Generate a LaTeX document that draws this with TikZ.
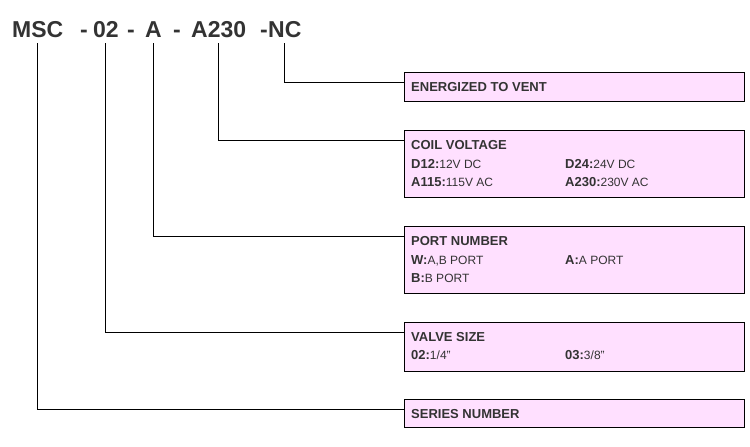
\documentclass[tikz,border=0pt]{standalone}
\usepackage{fontspec}
\setmainfont{Liberation Sans}
\definecolor{boxpink}{RGB}{255,224,255}
\definecolor{inkgray}{RGB}{51,51,51}
\newcommand{\optitem}[2]{{\fontsize{13}{13}\bfseries\selectfont #1}{\fontsize{12}{12}\selectfont #2}}
\tikzset{
  code/.style={font=\fontsize{23}{23}\bfseries\selectfont, text=inkgray, inner xsep=0pt, inner ysep=6pt, anchor=base west},
  optbox/.style={draw=black, line width=1pt, fill=boxpink, minimum width=340pt, minimum height=#1, inner sep=0pt, anchor=north west},
  head/.style={font=\fontsize{13}{13}\bfseries\selectfont, text=inkgray, inner sep=0pt, anchor=base west},
  opt/.style={text=inkgray, inner sep=0pt, anchor=base west},
  link/.style={line width=1pt},
}
\begin{document}
\begin{tikzpicture}[x=1pt,y=-1pt]
\useasboundingbox (0,0) rectangle (750,447);
% part number
\node[code] (msc) at (12,37) {MSC};
\node[code] (dash1) at (80,37) {-};
\node[code] (size) at (93,37) {02};
\node[code] (dash2) at (127,37) {-};
\node[code] (port) at (145,37) {A};
\node[code] (dash3) at (173,37) {-};
\node[code] (coil) at (191,37) {A230};
\node[code] (dash4) at (260,37) {-};
\node[code] (nc) at (268,37) {NC};
% option boxes
\node[optbox=29pt] (ventbox) at (404,72) {};
\node[optbox=67pt] (coilbox) at (404,130) {};
\node[optbox=67pt] (portbox) at (404,226) {};
\node[optbox=49pt] (sizebox) at (404,322) {};
\node[optbox=28pt] (seriesbox) at (404,399) {};
% box texts
\node[head] (venthead) at (411,91) {ENERGIZED TO VENT};
\node[head] (coilhead) at (411,149) {COIL VOLTAGE};
\node[opt] (d12) at (411,168) {\optitem{D12:}{12V DC}};
\node[opt] (d24) at (565,168) {\optitem{D24:}{24V DC}};
\node[opt] (a115) at (411,186) {\optitem{A115:}{115V AC}};
\node[opt] (a230) at (565,186) {\optitem{A230:}{230V AC}};
\node[head] (porthead) at (411,245) {PORT NUMBER};
\node[opt] (pw) at (411,264) {\optitem{W:}{A,B PORT}};
\node[opt] (pa) at (565,264) {\optitem{A:}{A PORT}};
\node[opt] (pb) at (411,282) {\optitem{B:}{B PORT}};
\node[head] (sizehead) at (411,341) {VALVE SIZE};
\node[opt] (s02) at (411,359) {\optitem{02:}{1/4\symbol{34}}};
\node[opt] (s03) at (565,359) {\optitem{03:}{3/8\symbol{34}}};
\node[head] (serieshead) at (411,418) {SERIES NUMBER};
% leaders
\draw[link] (nc.south) |- ([yshift=-10pt]ventbox.north west);
\draw[link] (coil.south) |- ([yshift=-10pt]coilbox.north west);
\draw[link] (port.south) |- ([yshift=-10pt]portbox.north west);
\draw[link] (size.south) |- ([yshift=-10pt]sizebox.north west);
\draw[link] (msc.south) |- ([yshift=-10pt]seriesbox.north west);
\end{tikzpicture}
\end{document}
